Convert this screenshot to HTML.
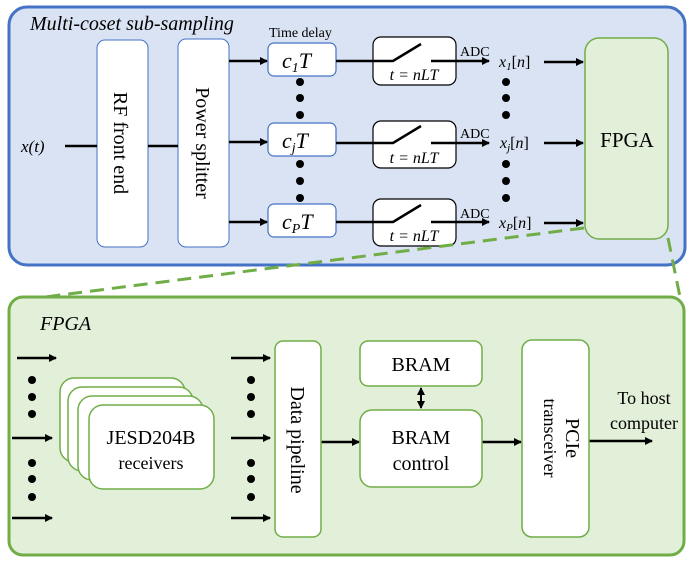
<!DOCTYPE html>
<html><head><meta charset="utf-8"><style>
html,body{margin:0;padding:0;background:#fff;}
svg, svg text{font-family:"Liberation Serif","Times New Roman",Times,serif;}
</style></head><body>
<svg width="698" height="565" viewBox="0 0 698 565" xmlns="http://www.w3.org/2000/svg" font-family="Liberation Serif, Times New Roman, serif">
<defs>
<marker id="ah" markerWidth="8" markerHeight="8" refX="7" refY="4" orient="auto" markerUnits="userSpaceOnUse">
<path d="M0,0 L8,4 L0,8 z" fill="#000"/></marker>
<marker id="ahs" markerWidth="8" markerHeight="8" refX="7" refY="4" orient="auto-start-reverse" markerUnits="userSpaceOnUse">
<path d="M0,0 L8,4 L0,8 z" fill="#000"/></marker>
</defs>
<rect x="9" y="7" width="676" height="258" rx="18" fill="#dae3f3" stroke="#4472c4" stroke-width="3"/>
<text x="30" y="30" font-size="20" font-style="italic">Multi-coset sub-sampling</text>
<text x="269" y="37" font-size="14">Time delay</text>
<rect x="97" y="40" width="51" height="207" rx="8" fill="#fff" stroke="#4472c4" stroke-width="1"/>
<rect x="178" y="39" width="51" height="208" rx="8" fill="#fff" stroke="#4472c4" stroke-width="1"/>
<text transform="translate(114,143) rotate(90)" text-anchor="middle" font-size="20">RF front end</text>
<text transform="translate(196,143) rotate(90)" text-anchor="middle" font-size="20">Power splitter</text>
<text x="21" y="152" font-size="17" font-style="italic">x(t)</text>
<line x1="65" y1="146" x2="97" y2="146" stroke="#000" stroke-width="2.5"/>
<line x1="148" y1="146" x2="178" y2="146" stroke="#000" stroke-width="2.5"/>
<g stroke="#000" stroke-width="2.5" fill="none">
<line x1="229" y1="61" x2="267" y2="61" marker-end="url(#ah)"/>
<line x1="229" y1="142" x2="267" y2="142" marker-end="url(#ah)"/>
<line x1="229" y1="222" x2="267" y2="222" marker-end="url(#ah)"/>
</g>
<g fill="#fff" stroke="#4472c4" stroke-width="1.2">
<rect x="268" y="43" width="68" height="33" rx="6"/>
<rect x="268" y="123" width="68" height="33" rx="6"/>
<rect x="268" y="204" width="68" height="33" rx="6"/>
</g>
<g font-size="22" font-style="italic">
<text x="282" y="68">c<tspan font-size="14" dy="4">1</tspan><tspan dy="-4">T</tspan></text>
<text x="282" y="148">c<tspan font-size="14" dy="4">j</tspan><tspan dy="-4">T</tspan></text>
<text x="282" y="229">c<tspan font-size="14" dy="4">P</tspan><tspan dy="-4">T</tspan></text>
</g>
<g fill="#fff" stroke="#000" stroke-width="1.2">
<rect x="373" y="37" width="83" height="48" rx="8"/>
<rect x="373" y="121" width="83" height="47" rx="8"/>
<rect x="373" y="199" width="83" height="47" rx="8"/>
</g>
<g stroke="#000" stroke-width="2.5" fill="none">
<polyline points="336,61 393,61 421,44"/>
<line x1="431" y1="61" x2="489" y2="61" marker-end="url(#ah)"/>
<polyline points="336,143 393,143 421,126"/>
<line x1="431" y1="143" x2="489" y2="143" marker-end="url(#ah)"/>
<polyline points="336,222 393,222 421,205"/>
<line x1="431" y1="222" x2="489" y2="222" marker-end="url(#ah)"/>
<line x1="544" y1="62" x2="583" y2="62" marker-end="url(#ah)"/>
<line x1="544" y1="143" x2="583" y2="143" marker-end="url(#ah)"/>
<line x1="544" y1="223" x2="583" y2="223" marker-end="url(#ah)"/>
</g>
<g font-size="16" font-style="italic" text-anchor="middle">
<text x="414" y="80">t = nLT</text>
<text x="414" y="163">t = nLT</text>
<text x="414" y="241">t = nLT</text>
</g>
<g font-size="14">
<text x="460" y="56">ADC</text>
<text x="460" y="138">ADC</text>
<text x="460" y="218">ADC</text>
</g>
<g font-size="16" font-style="italic">
<text x="499" y="67">x<tspan font-size="11" dy="3">1</tspan><tspan dy="-3" font-style="normal">[</tspan>n<tspan font-style="normal">]</tspan></text>
<text x="500" y="148">x<tspan font-size="11" dy="3">j</tspan><tspan dy="-3" font-style="normal">[</tspan>n<tspan font-style="normal">]</tspan></text>
<text x="499" y="228">x<tspan font-size="11" dy="3">P</tspan><tspan dy="-3" font-style="normal">[</tspan>n<tspan font-style="normal">]</tspan></text>
</g>
<g fill="#000">
<circle cx="300" cy="82" r="4"/><circle cx="300" cy="98" r="4"/><circle cx="300" cy="115" r="4"/>
<circle cx="300" cy="164" r="4"/><circle cx="300" cy="181" r="4"/><circle cx="300" cy="198" r="4"/>
<circle cx="506" cy="82" r="4"/><circle cx="506" cy="98" r="4"/><circle cx="506" cy="115" r="4"/>
<circle cx="506" cy="164" r="4"/><circle cx="506" cy="181" r="4"/><circle cx="506" cy="198" r="4"/>
</g>
<rect x="585" y="38" width="83" height="201" rx="14" fill="#e2efd9" stroke="#70ad47" stroke-width="1.5"/>
<text x="627" y="147" font-size="21" text-anchor="middle">FPGA</text>
<rect x="9" y="297" width="675" height="258" rx="14" fill="#e2efd9" stroke="#70ad47" stroke-width="3"/>
<g stroke="#70ad47" stroke-width="3" stroke-dasharray="14,8" fill="none">
<line x1="584" y1="228" x2="45" y2="297"/>
<line x1="668" y1="238" x2="680" y2="297"/>
</g>
<text x="40" y="330" font-size="20" font-style="italic">FPGA</text>
<g stroke="#000" stroke-width="2.5" fill="none">
<line x1="17" y1="358" x2="56" y2="358" marker-end="url(#ah)"/>
<line x1="12" y1="438" x2="52" y2="438" marker-end="url(#ah)"/>
<line x1="12" y1="518" x2="52" y2="518" marker-end="url(#ah)"/>
<line x1="231" y1="358" x2="270" y2="358" marker-end="url(#ah)"/>
<line x1="231" y1="438" x2="270" y2="438" marker-end="url(#ah)"/>
<line x1="231" y1="518" x2="270" y2="518" marker-end="url(#ah)"/>
<line x1="321" y1="442" x2="359" y2="442" marker-end="url(#ah)"/>
<line x1="482" y1="442" x2="521" y2="442" marker-end="url(#ah)"/>
<line x1="589" y1="441" x2="652" y2="441" marker-end="url(#ah)"/>
<line x1="421" y1="388" x2="421" y2="408" marker-start="url(#ahs)" marker-end="url(#ah)" stroke-width="2"/>
</g>
<g fill="#000">
<circle cx="32" cy="380" r="4"/><circle cx="32" cy="397" r="4"/><circle cx="32" cy="414" r="4"/>
<circle cx="32" cy="463" r="4"/><circle cx="32" cy="479" r="4"/><circle cx="32" cy="497" r="4"/>
<circle cx="251" cy="380" r="4"/><circle cx="251" cy="397" r="4"/><circle cx="251" cy="414" r="4"/>
<circle cx="251" cy="463" r="4"/><circle cx="251" cy="479" r="4"/><circle cx="251" cy="497" r="4"/>
</g>
<g fill="#fff" stroke="#70ad47" stroke-width="1.5">
<rect x="60" y="378" width="125" height="84" rx="14"/>
<rect x="68" y="387" width="125" height="84" rx="14"/>
<rect x="78" y="396" width="125" height="84" rx="14"/>
<rect x="89" y="405" width="125" height="84" rx="14"/>
<rect x="275" y="341" width="46" height="196" rx="8"/>
<rect x="360" y="341" width="122" height="45" rx="8"/>
<rect x="360" y="410" width="122" height="77" rx="12"/>
<rect x="522" y="340" width="67" height="197" rx="10"/>
</g>
<g font-size="20" text-anchor="middle">
<text x="151" y="444">JESD204B</text>
<text x="151" y="469" font-size="18">receivers</text>
<text transform="translate(291,440) rotate(90)">Data pipeline</text>
<text x="421" y="371">BRAM</text>
<text x="421" y="444">BRAM</text>
<text x="421" y="470">control</text>
<text transform="translate(566,438) rotate(90)" font-size="20">PCIe</text>
<text transform="translate(544,438) rotate(90)" font-size="18">transceiver</text>
<text x="644" y="404" font-size="18">To host</text>
<text x="644" y="429" font-size="18">computer</text>
</g>
</svg>
</body></html>
